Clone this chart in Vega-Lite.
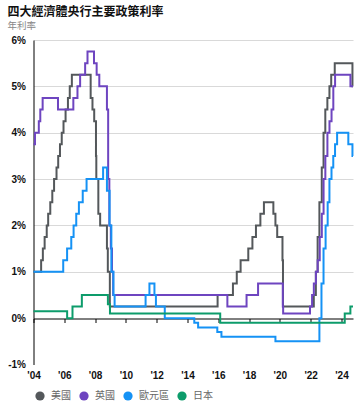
{
  "$schema": "https://vega.github.io/schema/vega-lite/v6.json",
  "autosize": "none",
  "width": 319.5,
  "height": 324.5,
  "padding": {"left": 33.5, "top": 40, "right": 7, "bottom": 42.5},
  "background": "white",
  "title": {
    "text": "四大經濟體央行主要政策利率",
    "subtitle": "年利率",
    "anchor": "start",
    "frame": "group",
    "dx": -26,
    "offset": 4,
    "font": "Noto Sans CJK TC",
    "fontSize": 12,
    "fontWeight": "bold",
    "color": "#111111",
    "subtitleFont": "Noto Sans CJK TC",
    "subtitleFontSize": 9.5,
    "subtitleColor": "#888888",
    "subtitlePadding": 2
  },
  "data": {
    "values": [
      {"d": "2004-01-01", "s": "美國", "v": 1.0},
      {"d": "2004-06-30", "s": "美國", "v": 1.25},
      {"d": "2004-08-10", "s": "美國", "v": 1.5},
      {"d": "2004-09-21", "s": "美國", "v": 1.75},
      {"d": "2004-11-10", "s": "美國", "v": 2.0},
      {"d": "2004-12-14", "s": "美國", "v": 2.25},
      {"d": "2005-02-02", "s": "美國", "v": 2.5},
      {"d": "2005-03-22", "s": "美國", "v": 2.75},
      {"d": "2005-05-03", "s": "美國", "v": 3.0},
      {"d": "2005-06-30", "s": "美國", "v": 3.25},
      {"d": "2005-08-09", "s": "美國", "v": 3.5},
      {"d": "2005-09-20", "s": "美國", "v": 3.75},
      {"d": "2005-11-01", "s": "美國", "v": 4.0},
      {"d": "2005-12-13", "s": "美國", "v": 4.25},
      {"d": "2006-01-31", "s": "美國", "v": 4.5},
      {"d": "2006-03-28", "s": "美國", "v": 4.75},
      {"d": "2006-05-10", "s": "美國", "v": 5.0},
      {"d": "2006-06-29", "s": "美國", "v": 5.25},
      {"d": "2007-09-18", "s": "美國", "v": 4.75},
      {"d": "2007-10-31", "s": "美國", "v": 4.5},
      {"d": "2007-12-11", "s": "美國", "v": 4.25},
      {"d": "2008-01-22", "s": "美國", "v": 3.5},
      {"d": "2008-01-30", "s": "美國", "v": 3.0},
      {"d": "2008-03-18", "s": "美國", "v": 2.25},
      {"d": "2008-04-30", "s": "美國", "v": 2.0},
      {"d": "2008-10-08", "s": "美國", "v": 1.5},
      {"d": "2008-10-29", "s": "美國", "v": 1.0},
      {"d": "2008-12-16", "s": "美國", "v": 0.25},
      {"d": "2015-12-16", "s": "美國", "v": 0.5},
      {"d": "2016-12-14", "s": "美國", "v": 0.75},
      {"d": "2017-03-15", "s": "美國", "v": 1.0},
      {"d": "2017-06-14", "s": "美國", "v": 1.25},
      {"d": "2017-12-13", "s": "美國", "v": 1.5},
      {"d": "2018-03-21", "s": "美國", "v": 1.75},
      {"d": "2018-06-13", "s": "美國", "v": 2.0},
      {"d": "2018-09-26", "s": "美國", "v": 2.25},
      {"d": "2018-12-19", "s": "美國", "v": 2.5},
      {"d": "2019-07-31", "s": "美國", "v": 2.25},
      {"d": "2019-09-18", "s": "美國", "v": 2.0},
      {"d": "2019-10-30", "s": "美國", "v": 1.75},
      {"d": "2020-03-03", "s": "美國", "v": 1.25},
      {"d": "2020-03-15", "s": "美國", "v": 0.25},
      {"d": "2022-03-16", "s": "美國", "v": 0.5},
      {"d": "2022-05-04", "s": "美國", "v": 1.0},
      {"d": "2022-06-15", "s": "美國", "v": 1.75},
      {"d": "2022-07-27", "s": "美國", "v": 2.5},
      {"d": "2022-09-21", "s": "美國", "v": 3.25},
      {"d": "2022-11-02", "s": "美國", "v": 4.0},
      {"d": "2022-12-14", "s": "美國", "v": 4.5},
      {"d": "2023-02-01", "s": "美國", "v": 4.75},
      {"d": "2023-03-22", "s": "美國", "v": 5.0},
      {"d": "2023-05-03", "s": "美國", "v": 5.25},
      {"d": "2023-07-26", "s": "美國", "v": 5.5},
      {"d": "2024-09-18", "s": "美國", "v": 5.0},
      {"d": "2024-10-01", "s": "美國", "v": 5.0},

      {"d": "2004-01-01", "s": "英國", "v": 3.75},
      {"d": "2004-02-05", "s": "英國", "v": 4.0},
      {"d": "2004-05-06", "s": "英國", "v": 4.25},
      {"d": "2004-06-10", "s": "英國", "v": 4.5},
      {"d": "2004-08-05", "s": "英國", "v": 4.75},
      {"d": "2005-08-04", "s": "英國", "v": 4.5},
      {"d": "2006-08-03", "s": "英國", "v": 4.75},
      {"d": "2006-11-09", "s": "英國", "v": 5.0},
      {"d": "2007-01-11", "s": "英國", "v": 5.25},
      {"d": "2007-05-10", "s": "英國", "v": 5.5},
      {"d": "2007-07-05", "s": "英國", "v": 5.75},
      {"d": "2007-12-06", "s": "英國", "v": 5.5},
      {"d": "2008-02-07", "s": "英國", "v": 5.25},
      {"d": "2008-04-10", "s": "英國", "v": 5.0},
      {"d": "2008-10-08", "s": "英國", "v": 4.5},
      {"d": "2008-11-06", "s": "英國", "v": 3.0},
      {"d": "2008-12-04", "s": "英國", "v": 2.0},
      {"d": "2009-01-08", "s": "英國", "v": 1.5},
      {"d": "2009-02-05", "s": "英國", "v": 1.0},
      {"d": "2009-03-05", "s": "英國", "v": 0.5},
      {"d": "2016-08-04", "s": "英國", "v": 0.25},
      {"d": "2017-11-02", "s": "英國", "v": 0.5},
      {"d": "2018-08-02", "s": "英國", "v": 0.75},
      {"d": "2020-03-11", "s": "英國", "v": 0.25},
      {"d": "2020-03-19", "s": "英國", "v": 0.1},
      {"d": "2021-12-16", "s": "英國", "v": 0.25},
      {"d": "2022-02-03", "s": "英國", "v": 0.5},
      {"d": "2022-03-17", "s": "英國", "v": 0.75},
      {"d": "2022-05-05", "s": "英國", "v": 1.0},
      {"d": "2022-06-16", "s": "英國", "v": 1.25},
      {"d": "2022-08-04", "s": "英國", "v": 1.75},
      {"d": "2022-09-22", "s": "英國", "v": 2.25},
      {"d": "2022-11-03", "s": "英國", "v": 3.0},
      {"d": "2022-12-15", "s": "英國", "v": 3.5},
      {"d": "2023-02-02", "s": "英國", "v": 4.0},
      {"d": "2023-03-23", "s": "英國", "v": 4.25},
      {"d": "2023-05-11", "s": "英國", "v": 4.5},
      {"d": "2023-06-22", "s": "英國", "v": 5.0},
      {"d": "2023-08-03", "s": "英國", "v": 5.25},
      {"d": "2024-08-01", "s": "英國", "v": 5.0},
      {"d": "2024-10-01", "s": "英國", "v": 5.0},

      {"d": "2004-01-01", "s": "歐元區", "v": 1.0},
      {"d": "2005-12-06", "s": "歐元區", "v": 1.25},
      {"d": "2006-03-08", "s": "歐元區", "v": 1.5},
      {"d": "2006-06-15", "s": "歐元區", "v": 1.75},
      {"d": "2006-08-09", "s": "歐元區", "v": 2.0},
      {"d": "2006-10-11", "s": "歐元區", "v": 2.25},
      {"d": "2006-12-13", "s": "歐元區", "v": 2.5},
      {"d": "2007-03-14", "s": "歐元區", "v": 2.75},
      {"d": "2007-06-13", "s": "歐元區", "v": 3.0},
      {"d": "2008-07-09", "s": "歐元區", "v": 3.25},
      {"d": "2008-10-08", "s": "歐元區", "v": 2.75},
      {"d": "2008-12-10", "s": "歐元區", "v": 2.0},
      {"d": "2009-01-21", "s": "歐元區", "v": 1.0},
      {"d": "2009-03-11", "s": "歐元區", "v": 0.5},
      {"d": "2009-04-08", "s": "歐元區", "v": 0.25},
      {"d": "2011-04-13", "s": "歐元區", "v": 0.5},
      {"d": "2011-07-13", "s": "歐元區", "v": 0.75},
      {"d": "2011-11-09", "s": "歐元區", "v": 0.5},
      {"d": "2011-12-14", "s": "歐元區", "v": 0.25},
      {"d": "2012-07-11", "s": "歐元區", "v": 0.0},
      {"d": "2014-06-11", "s": "歐元區", "v": -0.1},
      {"d": "2014-09-10", "s": "歐元區", "v": -0.2},
      {"d": "2015-12-09", "s": "歐元區", "v": -0.3},
      {"d": "2016-03-16", "s": "歐元區", "v": -0.4},
      {"d": "2019-09-18", "s": "歐元區", "v": -0.5},
      {"d": "2022-07-27", "s": "歐元區", "v": 0.0},
      {"d": "2022-09-14", "s": "歐元區", "v": 0.75},
      {"d": "2022-11-02", "s": "歐元區", "v": 1.5},
      {"d": "2022-12-21", "s": "歐元區", "v": 2.0},
      {"d": "2023-02-08", "s": "歐元區", "v": 2.5},
      {"d": "2023-03-22", "s": "歐元區", "v": 3.0},
      {"d": "2023-05-10", "s": "歐元區", "v": 3.25},
      {"d": "2023-06-21", "s": "歐元區", "v": 3.5},
      {"d": "2023-08-02", "s": "歐元區", "v": 3.75},
      {"d": "2023-09-20", "s": "歐元區", "v": 4.0},
      {"d": "2024-06-12", "s": "歐元區", "v": 3.75},
      {"d": "2024-09-18", "s": "歐元區", "v": 3.5},
      {"d": "2024-10-01", "s": "歐元區", "v": 3.5},

      {"d": "2004-01-01", "s": "日本", "v": 0.15},
      {"d": "2006-03-09", "s": "日本", "v": 0.0},
      {"d": "2006-07-14", "s": "日本", "v": 0.25},
      {"d": "2007-02-21", "s": "日本", "v": 0.5},
      {"d": "2008-10-31", "s": "日本", "v": 0.3},
      {"d": "2008-12-19", "s": "日本", "v": 0.1},
      {"d": "2016-02-16", "s": "日本", "v": -0.1},
      {"d": "2024-03-19", "s": "日本", "v": 0.1},
      {"d": "2024-07-31", "s": "日本", "v": 0.25},
      {"d": "2024-10-01", "s": "日本", "v": 0.25}
    ]
  },
  "encoding": {
    "y": {
      "field": "v",
      "type": "quantitative",
      "scale": {"domain": [-1, 6], "nice": false},
      "axis": {
        "title": null,
        "values": [-1, 0, 1, 2, 3, 4, 5, 6],
        "domain": true,
        "domainColor": "#000000",
        "ticks": false,
        "labelPadding": 8,
        "labelFont": "Liberation Sans",
        "labelFontSize": 10,
        "labelFontWeight": "bold",
        "labelColor": "#111111",
        "labelExpr": "datum.value + '%'",
        "grid": true,
        "gridColor": {"condition": {"test": "datum.value <= 0", "value": "transparent"}, "value": "#d9d9d9"},
        "gridWidth": 1
      }
    }
  },
  "layer": [
    {
      "mark": {"type": "line", "opacity": 0},
      "encoding": {
        "x": {
          "field": "d",
          "type": "temporal",
          "scale": {"domain": [{"year": 2004, "month": 1, "date": 1}, {"year": 2024, "month": 10, "date": 1}]},
          "axis": {
            "orient": "bottom",
            "offset": -46,
            "title": null,
            "labels": false,
            "grid": false,
            "domain": true,
            "domainColor": "#000000",
            "domainWidth": 1,
            "ticks": true,
            "tickColor": "#000000",
            "tickSize": 4,
            "tickCount": {"interval": "year", "step": 2}
          }
        },
        "detail": {"field": "s"}
      }
    },
    {
      "mark": {"type": "line", "interpolate": "step-after", "strokeWidth": 2},
      "encoding": {
        "x": {
          "field": "d",
          "type": "temporal",
          "axis": {
            "orient": "bottom",
            "title": null,
            "domain": false,
            "ticks": false,
            "tickSize": 0,
            "grid": false,
            "labelPadding": 6,
            "labelFlush": false,
            "labelFont": "Liberation Sans",
            "labelFontSize": 10,
            "labelFontWeight": "bold",
            "labelColor": "#111111",
            "tickCount": {"interval": "year", "step": 2},
            "labelExpr": "\"'\" + timeFormat(datum.value, '%y')"
          }
        },
        "color": {
          "field": "s",
          "type": "nominal",
          "scale": {
            "domain": ["美國", "英國", "歐元區", "日本"],
            "range": ["#54585b", "#6e45c0", "#1592f5", "#0d9c6b"]
          },
          "legend": {
            "orient": "none",
            "legendX": 1.5,
            "legendY": 351,
            "direction": "horizontal",
            "title": null,
            "padding": 0,
            "symbolType": "circle",
            "symbolSize": 85,
            "labelFont": "Noto Sans CJK TC",
            "labelFontSize": 10,
            "labelColor": "#666666",
            "labelOffset": 6,
            "columnPadding": 8,
            "encode": {
              "symbols": {
                "update": {
                  "fill": {"field": "value", "scale": "color"},
                  "strokeWidth": {"value": 0},
                  "opacity": {"value": 1}
                }
              }
            }
          }
        }
      }
    }
  ],
  "resolve": {"axis": {"x": "independent"}},
  "config": {"view": {"stroke": null}}
}
